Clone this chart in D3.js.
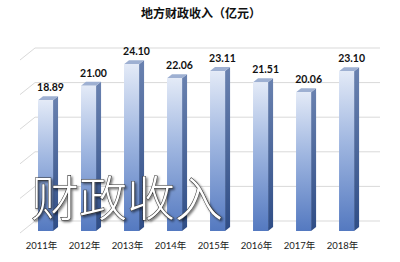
<!DOCTYPE html>
<html>
<head>
<meta charset="utf-8">
<script src="https://cdn.jsdelivr.net/npm/d3@7"></script>
<style>
  body { margin: 0; background: #fff; }
  svg { display: block; }
</style>
</head>
<body>
<div id="chart"></div>
<script>
// data
var years = ["2011年", "2012年", "2013年", "2014年", "2015年", "2016年", "2017年", "2018年"];
var values = [18.89, 21.00, 24.10, 22.06, 23.11, 21.51, 20.06, 23.10];
var valueLabels = ["18.89", "21.00", "24.10", "22.06", "23.11", "21.51", "20.06", "23.10"];
var gridTicks = [0, 5, 10, 15, 20, 25];

var width = 400, height = 262;
// depth of the floor (front edge vs back wall) and of each bar
var wallDx = 15, wallDy = 12;
var barDx = 5, barDy = 4;
var frontShift = 10; // bar front face sits this much lower than the back wall

var svg = d3.select("#chart")
  .append("svg")
    .attr("width", width)
    .attr("height", height);

var defs = svg.append("defs");

var gFront = defs.append("linearGradient")
    .attr("id", "gFront").attr("x1", 0).attr("y1", 0).attr("x2", 0).attr("y2", 1);
gFront.append("stop").attr("offset", "0%").attr("stop-color", "#e3eaf7");
gFront.append("stop").attr("offset", "45%").attr("stop-color", "#9fb6e0");
gFront.append("stop").attr("offset", "100%").attr("stop-color", "#5479c0");

var gSide = defs.append("linearGradient")
    .attr("id", "gSide").attr("x1", 0).attr("y1", 0).attr("x2", 0).attr("y2", 1);
gSide.append("stop").attr("offset", "0%").attr("stop-color", "#6a82b0");
gSide.append("stop").attr("offset", "100%").attr("stop-color", "#2f4d86");

var shadow = defs.append("filter").attr("id", "shadow")
    .attr("x", "-10%").attr("y", "-10%").attr("width", "130%").attr("height", "130%");
shadow.append("feDropShadow")
    .attr("dx", 1.5).attr("dy", 1.5).attr("stdDeviation", 1.2)
    .attr("flood-color", "#000").attr("flood-opacity", 0.55);

// back wall value scale
var y = d3.scaleLinear()
  .domain([0, 25])
  .range([221, 48]);

var x = d3.scaleBand()
  .domain(years)
  .range([16.5, 375.6])
  .paddingInner(0.65)
  .paddingOuter(0.5);

var wallLeft = 35, wallRight = 380;

// gridlines: back wall + left side wall
var grid = svg.append("g");
grid.selectAll(".back")
  .data(gridTicks)
  .enter()
  .append("line")
    .attr("x1", wallLeft)
    .attr("x2", wallRight)
    .attr("y1", function(d) { return y(d); })
    .attr("y2", function(d) { return y(d); })
    .attr("stroke", "#d9d9d9")
    .attr("stroke-width", 1);
grid.selectAll(".side")
  .data(gridTicks)
  .enter()
  .append("line")
    .attr("x1", wallLeft - wallDx)
    .attr("x2", wallLeft)
    .attr("y1", function(d) { return y(d) + wallDy; })
    .attr("y2", function(d) { return y(d); })
    .attr("stroke", "#d9d9d9")
    .attr("stroke-width", 1);

// bars
var bw = x.bandwidth();
var bars = svg.selectAll(".bar")
  .data(years)
  .enter()
  .append("g");

function yTop(i) { return y(values[i]) + frontShift; }
var yBase = y(0) + frontShift;

bars.append("polygon")
  .attr("points", function(d, i) {
    var x0 = x(d) + bw, t = yTop(i);
    return [[x0, t], [x0 + barDx, t - barDy], [x0 + barDx, yBase - barDy], [x0, yBase]].join(" ");
  })
  .attr("fill", "url(#gSide)");

bars.append("polygon")
  .attr("points", function(d, i) {
    var x0 = x(d), t = yTop(i);
    return [[x0, t], [x0 + barDx, t - barDy], [x0 + bw + barDx, t - barDy], [x0 + bw, t]].join(" ");
  })
  .attr("fill", "#9eb0d2");

bars.append("rect")
  .attr("x", function(d) { return x(d); })
  .attr("y", function(d, i) { return yTop(i); })
  .attr("width", bw)
  .attr("height", function(d, i) { return yBase - yTop(i); })
  .attr("fill", "url(#gFront)");

// value labels
svg.selectAll(".val")
  .data(years)
  .enter()
  .append("text")
    .attr("x", function(d) { return x(d) + bw / 2 + barDx; })
    .attr("y", function(d, i) { return yTop(i) - barDy - 5; })
    .attr("text-anchor", "middle")
    .style("font-family", "Lato, 'Liberation Sans', sans-serif")
    .style("font-weight", "bold")
    .style("font-size", "10.5px")
    .style("fill", "#111")
    .text(function(d, i) { return valueLabels[i]; });

// category labels
svg.selectAll(".cat")
  .data(years)
  .enter()
  .append("text")
    .attr("x", function(d) { return x(d) + bw / 2 - 4; })
    .attr("y", 249)
    .attr("text-anchor", "middle")
    .style("font-family", "Lato, 'Noto Sans CJK SC', sans-serif")
    .style("font-size", "9.5px")
    .style("fill", "#222")
    .text(function(d) { return d; });

// title
svg.append("text")
  .attr("x", 201)
  .attr("y", 18)
  .attr("text-anchor", "middle")
  .style("font-family", "'Noto Sans CJK SC', sans-serif")
  .style("font-weight", "bold")
  .style("font-size", "12px")
  .style("fill", "#111")
  .text("地方财政收入（亿元）");

// overlay word art
svg.append("text")
  .attr("x", 31)
  .attr("y", 216)
  .attr("filter", "url(#shadow)")
  .style("font-family", "'Noto Sans CJK SC', sans-serif")
  .style("font-size", "48px")
  .style("font-weight", 300)
  .style("fill", "#fff")
  .style("stroke", "#333")
  .style("stroke-width", 1.1)
  .style("paint-order", "stroke")
  .text("财政收入");
</script>
</body>
</html>
